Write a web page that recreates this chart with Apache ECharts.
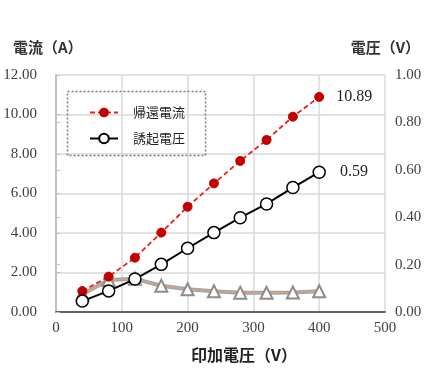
<!DOCTYPE html>
<html><head><meta charset="utf-8">
<script src="https://cdn.jsdelivr.net/npm/echarts@6/dist/echarts.min.js"></script>
<style>html,body{margin:0;padding:0;background:#fff}#c{width:433px;height:368px}</style>
</head><body><div id="c"></div>
<script>
var voltages = [40, 80, 120, 160, 200, 240, 280, 320, 360, 400];
var returnCurrent = [1.06, 1.79, 2.75, 4.02, 5.33, 6.51, 7.65, 8.71, 9.89, 10.89];
var inducedVoltage = [0.046, 0.089, 0.139, 0.201, 0.269, 0.335, 0.398, 0.456, 0.525, 0.59];
var thirdSeries = [0.9, 1.62, 1.68, 1.33, 1.15, 1.05, 0.98, 0.97, 0.99, 1.05];
var nameCurrent = '帰還電流';
var nameVoltage = '誘起電圧';
var leftTitle = '電流（A）';
var rightTitle = '電圧（V）';
var xTitle = '印加電圧（V）';

function pairs(xs, ys){ return xs.map(function(x,i){ return [x, ys[i]]; }); }
var numFont = 'Liberation Serif';
var cjkFont = 'Noto Sans CJK JP';
var chart = echarts.init(document.getElementById('c'), null, {renderer:'canvas'});
var lastIdx = voltages.length - 1;
chart.setOption({
  animation: false,
  backgroundColor: '#fff',
  title: [
    {text: leftTitle, left: 8, top: 35, textStyle:{fontFamily:cjkFont, fontSize:15, fontWeight:'bold', color:'#333'}},
    {text: rightTitle, right: 8, top: 35, textStyle:{fontFamily:cjkFont, fontSize:15, fontWeight:'bold', color:'#333'}},
    {text: xTitle, left: 186, top: 342, textStyle:{fontFamily:cjkFont, fontSize:16, fontWeight:'bold', color:'#222'}}
  ],
  grid: {left: 56, right: 48, top: 75, bottom: 56},
  legend: {
    data: [nameCurrent, nameVoltage],
    orient: 'vertical', left: 84, top: 101, itemWidth: 28, itemHeight: 12, itemGap: 13,
    textStyle: {fontFamily: cjkFont, fontSize: 13, color: '#222', padding: [0,0,0,10]}
  },
  graphic: [{type:'rect', shape:{x:67.5, y:91.5, width:138, height:64}, style:{fill:'none', stroke:'#7f7f7f', lineWidth:1.5, lineDash:[2,2]}, z: 10}],
  xAxis: [{
    type: 'value', min: 0, max: 500, interval: 100,
    axisLine: {show: true, lineStyle: {color: '#bfbfbf', width: 1.5}},
    axisTick: {show: false},
    axisLabel: {fontFamily: numFont, fontSize: 15, color: '#404040', margin: 9},
    splitLine: {show: true, lineStyle: {color: '#d9d9d9', width: 1.5}}
  }, {
    type: 'value', position: 'top', min: 0, max: 500, interval: 100,
    axisLine: {show: true, lineStyle: {color: '#404040', width: 1.5}},
    axisTick: {show: false}, axisLabel: {show: false}, splitLine: {show: false}
  }],
  yAxis: [{
    type: 'value', min: 0, max: 12, interval: 2, position: 'left',
    axisLine: {show: true, lineStyle: {color: '#bfbfbf', width: 1.5}},
    axisTick: {show: true, inside: true, length: 4, lineStyle: {color: '#bfbfbf'}},
    axisLabel: {fontFamily: numFont, fontSize: 15, color: '#404040', margin: 19, formatter: function(v){return v.toFixed(2);}},
    splitLine: {show: true, lineStyle: {color: '#d9d9d9', width: 1.5}}
  }, {
    type: 'value', min: 0, max: 1, interval: 0.2, position: 'right',
    axisLine: {show: true, lineStyle: {color: '#bfbfbf', width: 1.5}},
    axisTick: {show: true, inside: false, length: 4, lineStyle: {color: '#bfbfbf'}},
    axisLabel: {fontFamily: numFont, fontSize: 15, color: '#404040', margin: 10, formatter: function(v){return v.toFixed(2);}},
    splitLine: {show: false}
  }],
  series: [
    {
      type: 'line', yAxisIndex: 0, data: pairs(voltages, thirdSeries), z: 1,
      symbol: 'none', lineStyle: {color: '#9ea5ad', width: 4}, silent: true
    },
    {
      type: 'line', yAxisIndex: 0, data: pairs(voltages, thirdSeries), z: 2,
      symbol: 'triangle', symbolSize: 12,
      itemStyle: {color: '#fff', borderColor: '#8c8c8c', borderWidth: 2},
      lineStyle: {color: '#d9a27a', width: 1.5}
    },
    {
      name: nameCurrent, type: 'line', yAxisIndex: 0, data: pairs(voltages, returnCurrent), z: 3,
      symbol: 'circle', symbolSize: 9,
      itemStyle: {color: '#c00000', borderColor: '#c00000'},
      lineStyle: {color: '#ee1c1c', width: 1.8, type: [5, 3]},
      label: {show: true, position: 'right', distance: 12, fontFamily: numFont, fontSize: 16, color: '#222',
        formatter: function(p){ return p.dataIndex === lastIdx ? p.value[1].toFixed(2) : ''; }}
    },
    {
      name: nameVoltage, type: 'line', yAxisIndex: 1, data: pairs(voltages, inducedVoltage), z: 4,
      symbol: 'circle', symbolSize: 12,
      itemStyle: {color: '#fff', borderColor: '#000', borderWidth: 1.5},
      lineStyle: {color: '#000', width: 2},
      label: {show: true, position: 'right', distance: 14, fontFamily: numFont, fontSize: 16, color: '#222',
        formatter: function(p){ return p.dataIndex === lastIdx ? p.value[1].toFixed(2) : ''; }}
    }
  ]
});
</script></body></html>
